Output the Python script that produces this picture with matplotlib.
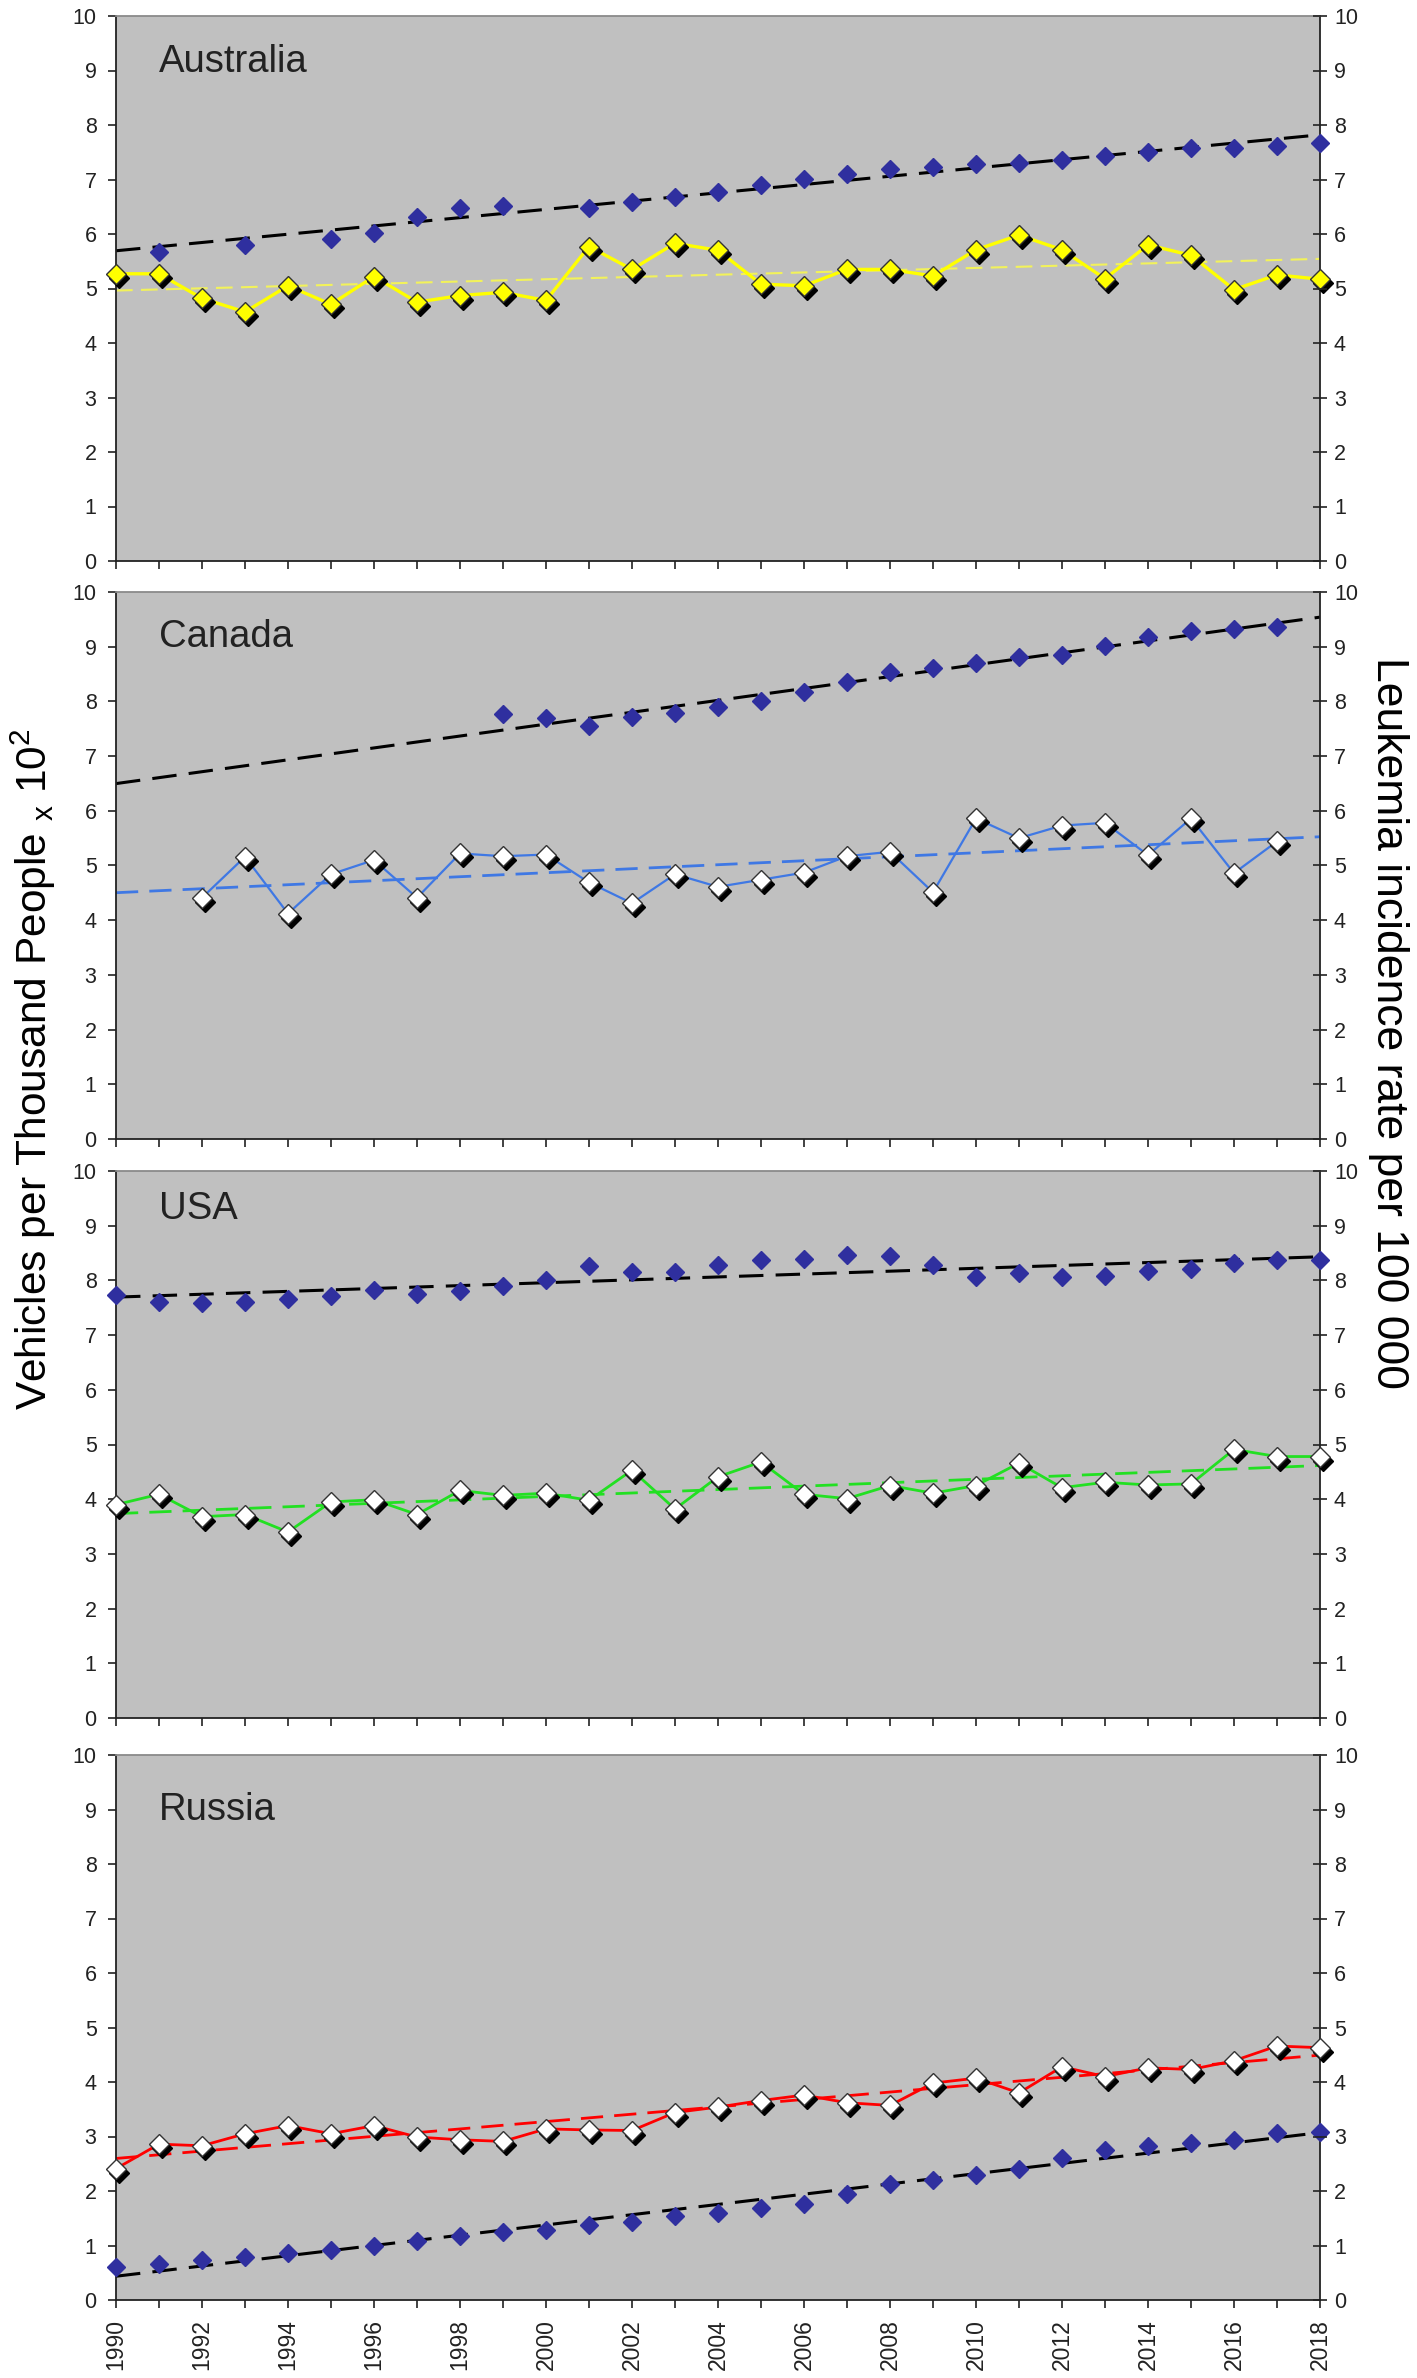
import numpy as np
import matplotlib
matplotlib.use("Agg")
import matplotlib.pyplot as plt
from matplotlib.transforms import offset_copy

plt.rcParams['font.family'] = ['Liberation Sans', 'DejaVu Sans']
plt.rcParams['mathtext.fontset'] = 'custom'
plt.rcParams['mathtext.rm'] = 'Liberation Sans'

nan = np.nan
years = list(range(1990, 2019))

countries = ["Australia", "Canada", "USA", "Russia"]

aus_leuk = [5.27, 5.27, 4.82, 4.57, 5.05, 4.71, 5.22, 4.75, 4.87, 4.93, 4.78, 5.77, 5.35, 5.83, 5.70,
            5.08, 5.05, 5.35, 5.35, 5.23, 5.71, 5.98, 5.71, 5.18, 5.80, 5.61, 4.98, 5.25, 5.17]
aus_veh = [nan, 5.67, nan, 5.79, nan, 5.90, 6.01, 6.32, 6.48, 6.51, nan, 6.48, 6.59, 6.67, 6.77,
           6.90, 7.01, 7.10, 7.20, 7.23, 7.28, 7.30, 7.35, 7.43, 7.51, 7.57, 7.58, 7.62, 7.67]

can_leuk = [nan, nan, 4.41, 5.16, 4.12, 4.84, 5.10, 4.41, 5.22, 5.17, 5.20, 4.69, 4.31, 4.84, 4.61,
            4.74, 4.87, 5.17, 5.25, 4.51, 5.86, 5.50, 5.73, 5.78, 5.19, 5.86, 4.86, 5.44, nan]
can_veh = [nan, nan, nan, nan, nan, nan, nan, nan, nan, 7.77, 7.69, 7.55, 7.71, 7.79, 7.90,
           8.00, 8.18, 8.36, 8.54, 8.61, 8.71, 8.81, 8.84, 9.02, 9.17, 9.28, 9.33, 9.36, nan]

usa_leuk = [3.90, 4.09, 3.68, 3.72, 3.40, 3.95, 3.99, 3.72, 4.16, 4.07, 4.11, 3.98, 4.53, 3.82, 4.41,
            4.68, 4.09, 4.01, 4.25, 4.11, 4.25, 4.66, 4.21, 4.31, 4.26, 4.28, 4.91, 4.78, 4.78]
usa_veh = [7.74, 7.61, 7.58, 7.61, 7.66, 7.71, 7.83, 7.76, 7.81, 7.90, 8.01, 8.27, 8.16, 8.16, 8.29,
           8.37, 8.39, 8.46, 8.44, 8.29, 8.07, 8.13, 8.07, 8.08, 8.17, 8.21, 8.31, 8.37, 8.37]

rus_leuk = [2.41, 2.86, 2.83, 3.05, 3.20, 3.05, 3.20, 2.99, 2.94, 2.91, 3.14, 3.12, 3.11, 3.44, 3.54,
            3.66, 3.76, 3.62, 3.57, 3.98, 4.07, 3.80, 4.28, 4.10, 4.26, 4.23, 4.39, 4.66, 4.63]
rus_veh = [0.61, 0.66, 0.73, 0.79, 0.87, 0.92, 0.99, 1.08, 1.17, 1.24, 1.29, 1.37, 1.44, 1.54, 1.59,
           1.69, 1.76, 1.94, 2.12, 2.20, 2.30, 2.41, 2.60, 2.75, 2.83, 2.88, 2.94, 3.06, 3.09]

leuk_series = [aus_leuk, can_leuk, usa_leuk, rus_leuk]
veh_series = [aus_veh, can_veh, usa_veh, rus_veh]

# styles
line_colors = ['#FFFF00', '#3F78E4', '#22E022', '#FF0000']
trend_colors = ['#F2F25A', '#3F78E4', '#22E022', '#FF0000']
line_widths = [2.4, 1.6, 2.0, 2.0]
trend_widths = [1.5, 2.0, 2.0, 2.0]
face_colors = ['#FFFF00', '#FFFFFF', '#FFFFFF', '#FFFFFF']
label_y = [8.98, 9.0, 9.13, 8.8]
veh_color = '#2F2F9F'
bg = '#C0C0C0'
txt = '#222222'

W, H = 1417, 2378
fig = plt.figure(figsize=(W / 100, H / 100), dpi=100)
left_px, right_px = 116, 1320
panels_px = [(16, 561), (592, 1139), (1171, 1718), (1755, 2300)]

yrs = np.array(years, dtype=float)

for i, (top, bot) in enumerate(panels_px):
    ax = fig.add_axes([left_px / W, 1 - bot / H, (right_px - left_px) / W, (bot - top) / H])
    ax.set_facecolor(bg)
    ax.set_xlim(1990, 2018)
    ax.set_ylim(0, 10)
    ax.set_xticks(years)
    if i == 3:
        ax.set_xticklabels([str(y) if y % 2 == 0 else '' for y in years])
    else:
        ax.set_xticklabels([])
    ax.set_yticks(range(11))
    ax.tick_params(axis='x', direction='out', length=6, width=1.2, colors=txt,
                   labelsize=16.5, labelrotation=90, pad=8)
    ax.tick_params(axis='y', direction='out', length=6, width=1.2, colors=txt,
                   labelsize=15.5, pad=8)
    for s in ['left', 'bottom', 'right']:
        ax.spines[s].set_color('#222222')
        ax.spines[s].set_linewidth(1.3)
    ax.spines['top'].set_color('#8A8A8A')
    ax.spines['top'].set_linewidth(1.3)

    ax2 = ax.twinx()
    ax2.set_ylim(0, 10)
    ax2.set_yticks(range(11))
    ax2.tick_params(axis='y', direction='inout', length=10, width=1.2, colors=txt,
                    labelsize=15.5, pad=5)
    for s in ax2.spines.values():
        s.set_visible(False)

    leuk = np.array(leuk_series[i], dtype=float)
    veh = np.array(veh_series[i], dtype=float)

    # trend lines (linear fits)
    for vals, col, lw in [(veh, 'black', 2.2), (leuk, trend_colors[i], trend_widths[i])]:
        m = ~np.isnan(vals)
        p = np.polyfit(yrs[m], vals[m], 1)
        ax.plot(yrs, np.polyval(p, yrs), color=col, lw=lw, ls=(0, (8, 4)), zorder=2)

    # leukemia line
    ax.plot(yrs, leuk, color=line_colors[i], lw=line_widths[i], zorder=3)

    # vehicles markers
    ax.plot(yrs, veh, 'D', color=veh_color, ms=9, mec=veh_color, zorder=4, clip_on=False)

    # leukemia markers with shadow
    shadow = offset_copy(ax.transData, fig=fig, x=3, y=-4, units='dots')
    ax.plot(yrs, leuk, 'D', color='black', ms=10, mec='black', transform=shadow,
            zorder=5, clip_on=False)
    ax.plot(yrs, leuk, 'D', mfc=face_colors[i], mec='#333333', mew=1.0, ms=10,
            ls='none', zorder=6, clip_on=False)

    ax.text(1991.0, label_y[i], countries[i], fontsize=27.5, color=txt, va='baseline')

fig.text(33 / W, 1 - 1069 / H,
         r'Vehicles per Thousand People $\mathregular{_x}$ 10$\mathregular{^2}$',
         rotation=90, ha='center', va='center', fontsize=30.5, color='black')
fig.text(1388 / W, 1 - 1023 / H, 'Leukemia incidence rate per 100 000',
         rotation=270, ha='center', va='center', fontsize=32, color='black')

fig.savefig('out.png', dpi=100, facecolor='white')
